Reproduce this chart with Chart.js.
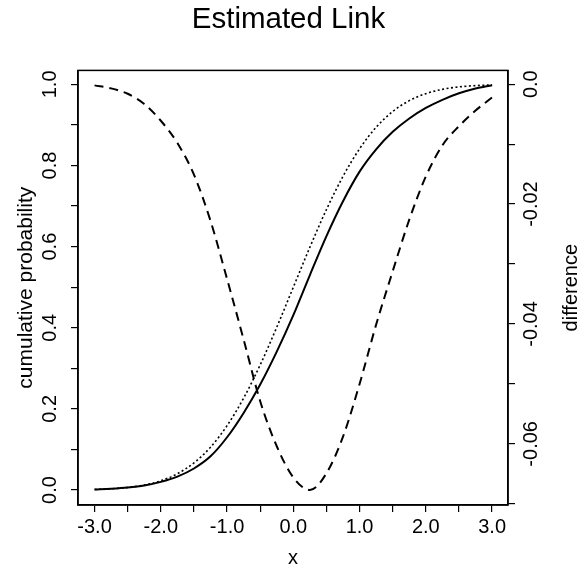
<!DOCTYPE html>
<html>
<head>
<meta charset="utf-8">
<script src="https://cdn.jsdelivr.net/npm/chart.js@4"></script>
<style>
html, body { margin: 0; padding: 0; background: #fff; }
#wrap { width: 577px; height: 581px; }
</style>
</head>
<body>
<div id="wrap"><canvas id="link_chart" width="577" height="581"></canvas></div>
<script>
// x grid (step 0.25)
var xs = [-3, -2.75, -2.5, -2.25, -2, -1.75, -1.5, -1.25, -1, -0.75, -0.5, -0.25, 0,
          0.25, 0.5, 0.75, 1, 1.25, 1.5, 1.75, 2, 2.25, 2.5, 2.75, 3];
// solid line: estimated link
var estimated = [0.001, 0.003, 0.006, 0.011, 0.020, 0.033, 0.053, 0.083, 0.130, 0.190, 0.260, 0.341, 0.431,
                 0.530, 0.626, 0.712, 0.785, 0.840, 0.883, 0.916, 0.942, 0.962, 0.978, 0.990, 0.998];
// dotted line: reference (probit) link
var reference = [0.0013, 0.0030, 0.0062, 0.0122, 0.0228, 0.0401, 0.0668, 0.1056, 0.1587, 0.2266, 0.3085, 0.4013, 0.5,
                 0.5987, 0.6915, 0.7734, 0.8413, 0.8944, 0.9332, 0.9599, 0.9772, 0.9878, 0.9938, 0.9970, 0.9987];
// dashed line: difference (right axis)
var difference = [-0.0002, -0.0007, -0.0016, -0.0033, -0.0061, -0.0098, -0.0151, -0.0228, -0.0325, -0.0426, -0.0529, -0.0604, -0.0656,
                  -0.0677, -0.0649, -0.0588, -0.0500, -0.0401, -0.0312, -0.0226, -0.0154, -0.0102, -0.0070, -0.0044, -0.0022];

var xTicks = [-3, -2.5, -2, -1.5, -1, -0.5, 0, 0.5, 1, 1.5, 2, 2.5, 3];
var probTicks = [0, 0.1, 0.2, 0.3, 0.4, 0.5, 0.6, 0.7, 0.8, 0.9, 1];
var diffTicks = [0, -0.01, -0.02, -0.03, -0.04, -0.05, -0.06, -0.07];

var FONT = '"Liberation Sans", Arial, Helvetica, sans-serif';
Chart.defaults.font.family = FONT;
Chart.defaults.color = '#000';

function pts(ys) {
    return xs.map(function (x, i) { return { x: x, y: ys[i] }; });
}

var framePlugin = {
    id: 'frame',
    afterDraw: function (chart) {
        var a = chart.chartArea, ctx = chart.ctx;
        ctx.save();
        ctx.strokeStyle = '#000';
        ctx.lineWidth = 1.5;
        ctx.strokeRect(a.left, a.top, a.right - a.left, a.bottom - a.top);
        // right axis title, reading upwards like the tick labels
        ctx.translate(577, (a.top + a.bottom) / 2);
        ctx.rotate(-Math.PI / 2);
        ctx.font = '20px ' + FONT;
        ctx.fillStyle = '#000';
        ctx.textAlign = 'center';
        ctx.textBaseline = 'alphabetic';
        ctx.fillText('difference', 0, 0);
        ctx.restore();
    }
};

var ctx = document.getElementById('link_chart');
var chart = new Chart(ctx, {
    type: 'line',
    data: {
        datasets: [
            { label: 'estimated', data: pts(estimated), yAxisID: 'y',
              borderColor: '#000', borderWidth: 2, pointRadius: 0, cubicInterpolationMode: 'monotone' },
            { label: 'reference', data: pts(reference), yAxisID: 'y',
              borderColor: '#000', borderWidth: 1.6, borderDash: [2, 2.5], pointRadius: 0, cubicInterpolationMode: 'monotone' },
            { label: 'difference', data: pts(difference), yAxisID: 'y2',
              borderColor: '#000', borderWidth: 2, borderDash: [9, 6], pointRadius: 0, cubicInterpolationMode: 'monotone' }
        ]
    },
    options: {
        responsive: false,
        animation: false,
        devicePixelRatio: 1,
        layout: { padding: 0 },
        plugins: {
            legend: { display: false },
            tooltip: { enabled: false },
            title: {
                display: true,
                text: 'Estimated Link',
                color: '#000',
                font: { size: 29.5, weight: 'normal' },
                padding: { top: 2, bottom: 33 }
            }
        },
        scales: {
            x: {
                type: 'linear',
                min: -3.25,
                max: 3.24,
                afterBuildTicks: function (s) { s.ticks = xTicks.map(function (v) { return { value: v }; }); },
                afterFit: function (s) { s.height = 76; },
                ticks: {
                    autoSkip: false, maxRotation: 0, padding: 3,
                    font: { size: 20 },
                    callback: function (v) { return Number.isInteger(v) ? v.toFixed(1) : ''; }
                },
                grid: { drawOnChartArea: false, tickLength: 7, color: '#000', lineWidth: 1.2 },
                border: { color: '#000', width: 1.5 },
                title: { display: true, text: 'x', font: { size: 20 }, padding: { top: 0, bottom: 11 } }
            },
            y: {
                position: 'left',
                min: -0.037,
                max: 1.0345,
                afterBuildTicks: function (s) { s.ticks = probTicks.map(function (v) { return { value: v }; }); },
                afterFit: function (s) { s.width = 78; },
                ticks: {
                    autoSkip: false, minRotation: 90, maxRotation: 90, crossAlign: 'center', padding: 7,
                    font: { size: 20 },
                    callback: function (v) { return Math.round(v * 10) % 2 === 0 ? v.toFixed(1) : ''; }
                },
                grid: { drawOnChartArea: false, tickLength: 7, color: '#000', lineWidth: 1.2 },
                border: { color: '#000', width: 1.5 },
                title: { display: true, text: 'cumulative probability', font: { size: 21 }, padding: { top: 14, bottom: 0 } }
            },
            y2: {
                position: 'right',
                min: -0.0702,
                max: 0.0023,
                afterBuildTicks: function (s) { s.ticks = diffTicks.map(function (v) { return { value: v }; }); },
                afterFit: function (s) { s.width = 69; },
                ticks: {
                    autoSkip: false, minRotation: 90, maxRotation: 90, crossAlign: 'center', padding: -6,
                    font: { size: 20 },
                    callback: function (v) {
                        if (Math.round(v * 100) % 2 !== 0) return '';
                        return v === 0 ? '0.0' : v.toFixed(2);
                    }
                },
                grid: { drawOnChartArea: false, tickLength: 7, color: '#000', lineWidth: 1.2 },
                border: { color: '#000', width: 1.5 }
            }
        }
    },
    plugins: [framePlugin]
});
</script>
</body>
</html>
